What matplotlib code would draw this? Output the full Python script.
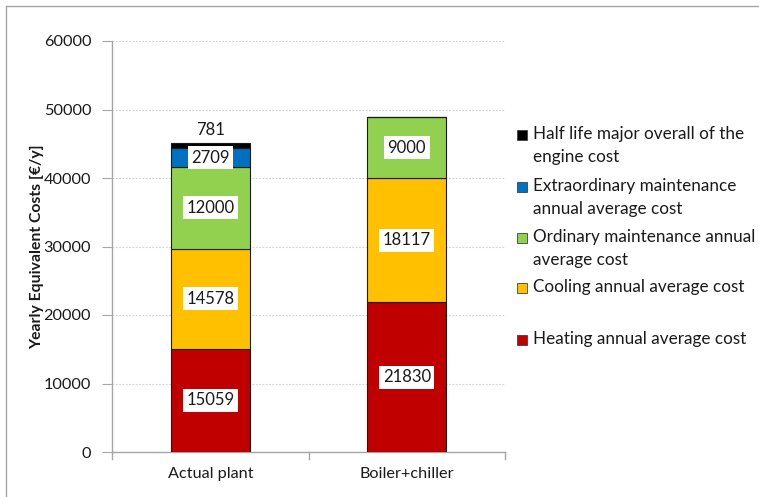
import matplotlib
matplotlib.use("Agg")
import matplotlib.pyplot as plt
from matplotlib.patches import Rectangle
from matplotlib.lines import Line2D
import numpy as np

plt.rcParams['font.family'] = ['Lato', 'DejaVu Sans']

categories = ["Actual plant", "Boiler+chiller"]
series_names = [
    "Heating annual average cost",
    "Cooling annual average cost",
    "Ordinary maintenance annual\naverage cost",
    "Extraordinary maintenance\nannual average cost",
    "Half life major overall of the\nengine cost",
]
heating = [15059, 21830]
cooling = [14578, 18117]
ordinary = [12000, 9000]
extraordinary = [2709, 0]
half_life = [781, 0]
values = [heating, cooling, ordinary, extraordinary, half_life]
colors = ["#C00000", "#FFC000", "#92D050", "#0070C0", "#000000"]
y_ticks = [0, 10000, 20000, 30000, 40000, 50000, 60000]

fig = plt.figure(figsize=(7.59, 4.97), dpi=100)
ax = fig.add_axes([112 / 759, 1 - 452 / 497, (505 - 112) / 759, (452 - 41) / 497])

x = np.arange(len(categories))
bottom = np.zeros(len(categories))
width = 0.40
for name, vals, col in zip(series_names, values, colors):
    vals = np.array(vals, dtype=float)
    ax.bar(x, vals, width, bottom=bottom, color=col, edgecolor="#1a1a1a",
           linewidth=0.8, zorder=3)
    for xi, v, b in zip(x, vals, bottom):
        if v <= 0:
            continue
        if v < 1500:
            ax.text(xi, b + v + 700, f"{int(v)}", ha="center", va="bottom",
                    fontsize=12, color="#1a1a1a", zorder=5)
        else:
            ax.text(xi, b + v / 2, f"{int(v)}", ha="center", va="center",
                    fontsize=12, color="#1a1a1a", zorder=5,
                    bbox=dict(facecolor="white", edgecolor="none", pad=2.5))
    bottom = bottom + vals

ax.set_xlim(-0.5, 1.5)
ax.set_ylim(0, 60000)
ax.set_yticks(y_ticks)
ax.set_yticklabels([str(t) for t in y_ticks], fontsize=11.7, color="#1a1a1a")
ax.set_xticks(x)
ax.set_xticklabels(categories, fontsize=11.7, color="#1a1a1a")
ax.tick_params(axis="x", length=0, pad=11)
ax.tick_params(axis="y", length=7, color="#a6a6a6", pad=8)

# category boundary ticks on the x axis
for xb in [-0.5, 0.5, 1.5]:
    ax.plot([xb, xb], [0, -1000], color="#a6a6a6", lw=1, clip_on=False, zorder=2)

ax.grid(axis="y", color="#d0d0d0", linestyle=(0, (1.5, 1.5)), linewidth=0.8, zorder=0)
for side in ["top", "right"]:
    ax.spines[side].set_visible(False)
for side in ["left", "bottom"]:
    ax.spines[side].set_color("#a6a6a6")
    ax.spines[side].set_linewidth(1)

ax.set_ylabel("Yearly Equivalent Costs [€/y]", fontsize=11.3, fontweight="bold",
              color="#1a1a1a", labelpad=0)

# legend, drawn top to bottom
legend_rows = [
    (series_names[4], colors[4], 135),
    (series_names[3], colors[3], 187),
    (series_names[2], colors[2], 238),
    (series_names[1], colors[1], 288),
    (series_names[0], colors[0], 340),
]
for label, col, ypx in legend_rows:
    fig.patches.append(Rectangle((517 / 759, 1 - (ypx + 5) / 497), 10 / 759, 10 / 497,
                                 transform=fig.transFigure, facecolor=col,
                                 edgecolor="#404040", linewidth=0.6))
    fig.text(533 / 759, 1 - (ypx - 9) / 497, label, ha="left", va="top",
             fontsize=12.3, color="#1a1a1a", linespacing=1.55)

# outer frame (top and left edges)
fig.add_artist(Line2D([6 / 759, 6 / 759], [0, 1 - 6 / 497], transform=fig.transFigure,
                      color="#a6a6a6", lw=1))
fig.add_artist(Line2D([6 / 759, 1], [1 - 6 / 497, 1 - 6 / 497], transform=fig.transFigure,
                      color="#a6a6a6", lw=1))

fig.savefig("out.png", dpi=100)
